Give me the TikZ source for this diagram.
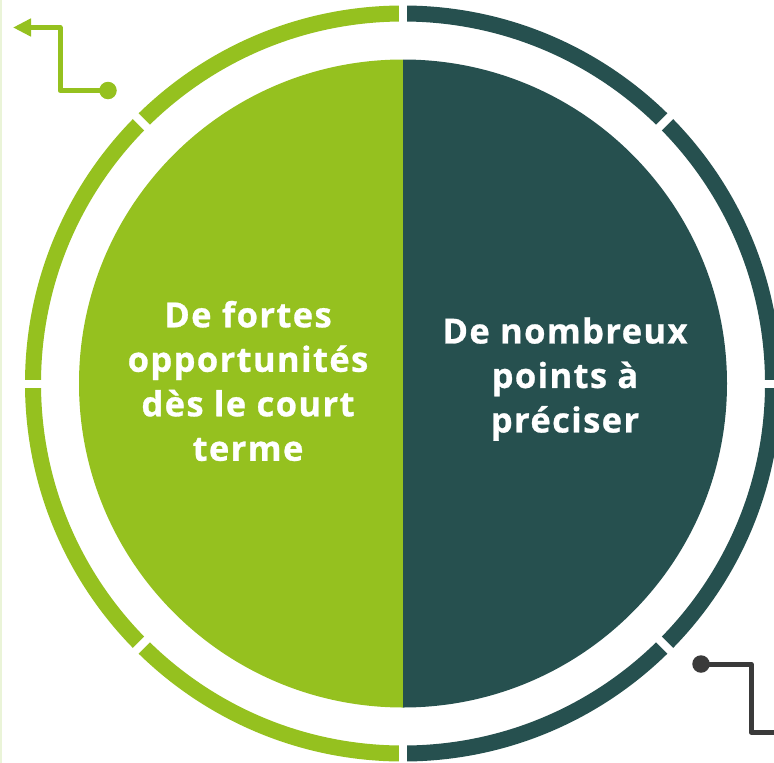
\documentclass[tikz,border=0pt]{standalone}
\usepackage{fontspec}
\setmainfont{Open Sans}[LetterSpace=4, BoldFeatures={FakeBold=0.8}]
\usetikzlibrary{arrows.meta}
\definecolor{lime}{HTML}{95C11F}
\definecolor{teal2}{HTML}{26504F}
\definecolor{darkgr}{HTML}{3A3A3A}
\definecolor{palegr}{HTML}{EAF4D8}
\tikzset{
  label/.style={text=white, font=\bfseries\fontsize{34.5}{44.5}\selectfont, align=center},
  dotnode/.style={circle, inner sep=0pt, minimum size=17.5pt},
  conn/.style={line width=5pt, line join=round},
  gapline/.style={white, line width=8pt},
}
\begin{document}
\begin{tikzpicture}[x=1pt,y=-1pt]
\useasboundingbox (0,0) rectangle (774,763);
\fill[white] (0,0) rectangle (774,763);
\fill[palegr] (0,0) rectangle (2,763);
\coordinate (c) at (403,383.5);
% inner disk
\fill[lime] (c) ++(90:324) arc[start angle=90,end angle=270,radius=324] -- cycle;
\fill[teal2] (c) ++(-90:324) arc[start angle=-90,end angle=90,radius=324] -- cycle;
% outer ring
\draw[lime, line width=16pt] (c) ++(90:370) arc[start angle=90,end angle=270,radius=370];
\draw[teal2, line width=16pt] (c) ++(-90:370) arc[start angle=-90,end angle=90,radius=370];
\foreach \a in {0,45,...,315} {
  \draw[gapline] (c) ++(\a:352) -- ++(\a:36);
}
% texts
\node[label] (t1) at (248,381) {De fortes\\opportunités\\dès le court\\terme};
\node[label] (t2) at (565,379) {De nombreux\\points à\\préciser};
% connectors
\node[dotnode, fill=lime] (d1) at (108,90.5) {};
\coordinate (a1) at (13,27.5);
\draw[conn, lime, -{Triangle[length=18pt,width=17pt]}] (d1.center) -- (60,90.5) -- (60,27.5) -- (a1);
\node[dotnode, fill=darkgr] (d2) at (701,664) {};
\coordinate (e2) at (776,732);
\draw[conn, darkgr] (d2.center) -- (751,664) -- (751,732) -- (e2);
\end{tikzpicture}
\end{document}
